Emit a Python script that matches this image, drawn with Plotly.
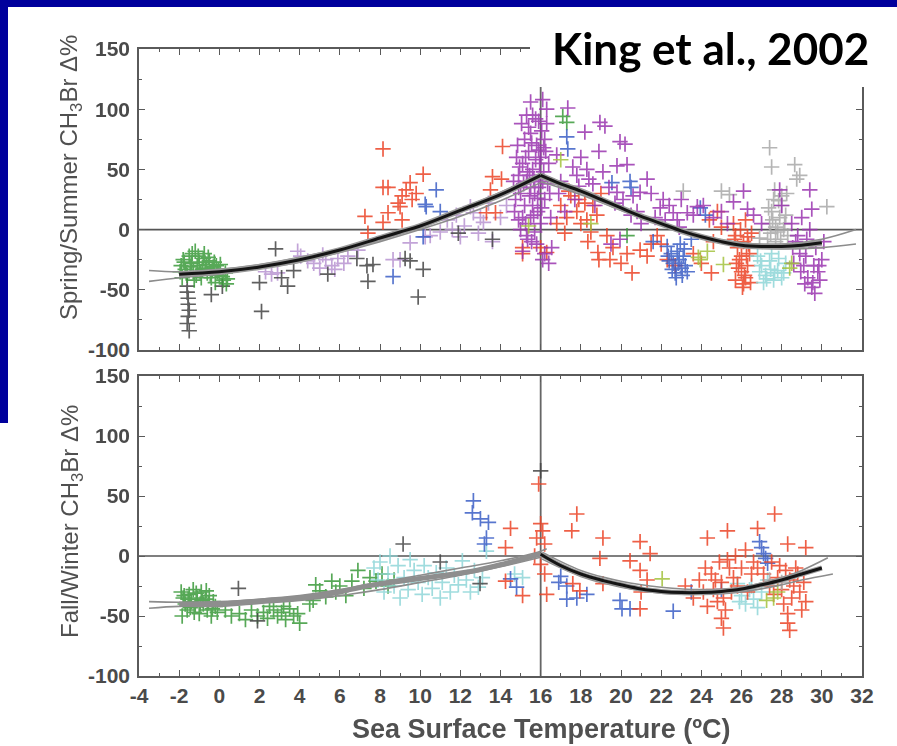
import plotly.graph_objects as go

# ---------------- DATA ----------------
# Top panel (Spring/Summer) scatter groups: (x = SST degC, y = CH3Br delta %)
top_green_x = [-1.9,-1.8,-1.7,-1.6,-1.5,-1.4,-1.3,-1.2,-1.1,-1.0,-0.9,-0.8,-0.7,-0.6,-0.5,-0.4,-0.3,-0.2,-0.1,0.0,0.2,0.4,
               -1.85,-1.65,-1.45,-1.25,-1.05,-0.85,-0.65,-0.45,-0.25,-0.05,0.15,0.35,-1.75,-1.35,-0.95,-0.55,-0.15,0.3,
               -1.95,-1.15,-0.75,-0.35,0.05,
               17.1,17.3,20.3]
top_green_y = [-30,-25,-33,-38,-22,-28,-35,-18,-30,-27,-40,-24,-32,-36,-26,-40,-31,-44,-35,-38,-42,-41,
               -40,-36,-31,-42,-22,-33,-29,-37,-27,-33,-39,-45,-27,-20,-35,-23,-30,-36,
               -35,-38,-20,-34,-29,
               94,89,-5]

top_dark_x = [-1.6,-1.6,-1.55,-1.55,-1.5,-1.55,-1.6,-1.5,-0.4,0.15,2.0,2.1,2.8,3.1,3.4,3.7,5.4,6.85,7.35,7.4,7.65,
              9.5,9.9,10.15,9.25,11.9,13.6]
top_dark_y = [-47,-52,-57,-62,-67,-72,-78,-84,-54,-47,-44,-68,-16,-40,-47,-34,-37,-24,-30,-43,-29,
              -26,-56,-33,-24,-3,-8]

top_lav_x = [2.3,2.6,2.9,3.9,4.05,4.7,5.0,5.3,5.6,5.9,6.2,6.4,6.9,8.65,9.0,9.5,10.25,10.5,11.35,12.0,12.65,13.15,
             13.6,12.2,11.8,12.5,13.0,11.0,14.3,14.0,4.4,5.15,5.75,11.6,12.9,13.4]
top_lav_y = [-35,-37,-36,-18,-22,-28,-32,-25,-30,-24,-28,-22,-17,-25,-25,-11,-6,-5,8,-6,14,6,
             -10,3,12,19,10,-2,20,10,-26,-21,-33,0,-3,22]

top_red_x = [8.15,8.15,8.4,10.15,8.9,9.1,9.3,9.5,9.6,9.8,9.0,7.25,8.15,9.1,8.4,7.4,14.1,13.6,14.05,13.5,13.75,13.3,
             15.1,15.1,16.0,16.3,18.35,18.85,19.45,18.9,20.55,20.95,21.3,
             17.0,17.3,17.5,17.8,18.0,18.2,18.5,18.8,19.0,17.2,16.8,
             21.8,22.0,23.6,24.0,24.5,24.4,24.8,25.0,24.6,
             25.6,25.7,25.8,25.9,26.0,26.1,26.2,26.3,26.4,26.1,25.95,26.2,25.7,26.05,26.35,25.75,26.5,26.25,
             17.4,17.9,18.3,18.6,19.3,19.6,20.0,20.3,21.5,22.3,22.7,25.65,25.85,26.0,26.15,26.3,26.45]
top_red_y = [67,35,35,46,22,28,33,39,25,30,19,11,6,8,14,-3,69,44,42,33,14,14,
             -15,-20,-15,-19,-10,-19,-25,-25,-36,-17,-22,
             20,10,28,15,5,22,-2,12,30,-3,5,
             -5,-12,-20,-28,-36,8,15,2,-10,
             5,-5,-15,-25,-35,-45,-40,-30,-20,-10,0,8,-42,-48,-12,-28,-3,-22,
             32,25,8,20,-5,-15,-28,-20,-12,-25,-30,-8,-32,-22,-38,-6,-44]

top_purple_x = [14.8,14.9,15.0,15.1,15.2,15.3,15.4,15.5,15.5,15.6,15.7,15.8,15.9,16.0,16.0,16.1,16.2,16.3,15.5,16.1,
                15.6,15.2,15.0,14.7,15.3,15.8,16.2,16.4,15.6,15.9,16.2,16.4,16.5,15.4,15.7,15.1,14.9,15.45,15.75,16.05,
                15.35,15.85,15.25,15.65,16.15,15.55,
                14.65,14.75,14.85,14.95,15.05,15.15,15.25,15.35,15.45,15.55,15.65,15.75,15.85,15.95,16.05,16.15,16.25,
                16.35,16.45,16.55,14.9,15.1,15.3,15.5,15.7,15.9,16.1,16.3,
                17.35,18.95,19.2,18.2,19.95,20.2,17.8,18.0,18.3,18.6,18.9,17.9,19.8,20.3,21.3,20.95,19.8,20.1,21.95,22.6,
                23.3,23.8,22.2,22.9,19.95,19.5,21.0,20.5,17.0,16.8,26.1,26.3,25.6,27.9,28.0,
                16.9,17.2,17.6,17.7,18.4,18.7,19.1,19.4,19.7,20.6,20.8,21.5,21.7,22.1,22.4,22.8,23.0,23.6,24.1,24.6,
                25.0,25.3,26.6,27.0,
                28.5,28.7,28.9,29.1,29.3,29.5,29.65,29.8,30.0,29.7,29.4,28.8,29.2,29.6,29.9,29.4,29.5,29.0,28.6,30.1,
                28.55,28.95,29.25,29.55,29.85,29.15]
top_purple_y = [60,45,30,55,20,40,65,10,80,50,30,70,90,5,60,40,75,100,106,108,
                95,75,0,15,-5,-12,-20,-28,20,35,25,55,10,85,-2,10,35,28,58,82,
                48,15,5,42,68,-10,
                40,25,70,52,88,38,60,-8,45,72,12,92,26,55,18,48,65,38,30,-15,8,-18,95,35,40,66,-25,88,
                101,89,86,81,73,71,45,60,50,38,65,36,53,54,42,31,31,25,18,14,
                14,19,8,2,-8,-12,5,12,40,62,32,17,23,33,20,
                30,15,52,25,42,20,48,35,22,28,15,30,10,25,20,8,25,12,20,10,
                15,5,12,5,
                5,-10,-20,-30,-40,-48,-53,-35,-25,-15,0,-5,-22,-30,-42,33,17,10,-28,-10,
                -15,-35,-8,-44,-30,-45]

top_blue_x = [10.25,10.8,11.0,8.65,10.15,10.3,17.3,17.35,19.55,20.45,20.5,22.3,22.5,22.6,22.7,22.8,22.9,23.0,23.1,
              23.2,22.4,22.95,23.3,23.95,24.2,23.5,21.6,22.35,22.55,22.75,22.85,23.05,23.15]
top_blue_y = [21,33,15,-39,-6,19,77,67,39,40,35,-14,-20,-28,-36,-18,-25,-32,-22,
              -30,-26,-12,-35,18,12,-8,-10,-22,-33,-40,-28,-38,-16]

top_cyan_x = [26.8,27.0,27.2,27.4,27.6,27.8,28.0,28.2,27.1,26.9,27.5,28.1,26.95,27.25,27.45,27.65,27.85]
top_cyan_y = [-22,-30,-38,-26,-42,-34,-40,-28,-44,-35,-20,-36,-26,-41,-33,-36,-24]

top_gray_x = [25.0,25.4,27.4,27.5,27.65,27.3,27.4,27.5,27.6,27.8,27.9,28.0,28.1,28.2,28.3,26.9,28.65,28.75,28.9,
              30.25,23.1,27.7,28.0,27.35,27.45,27.55,27.7,27.85,27.95,28.15,28.25]
top_gray_y = [32,29,68,52,33,-8,5,15,25,-2,10,20,0,12,-5,-7,54,42,45,19,32,-10,28,18,-3,8,2,24,-8,5,30]

top_ygreen_x = [15.4,17.0,23.95,23.85,25.1,28.4,28.5,18.5,24.3]
top_ygreen_y = [3,58,-25,-23,-29,-32,-28,5,-18]

# Top panel fit curves
top_fit_left_x = [-2,0,2,4,6,8,9,10,12,14,16]
top_fit_left_y = [-37,-35,-31,-25,-17,-7,-2,3,16,29,45]
top_fit_right_x = [16,17,18,19,20,21,22,23,24,25,26,27,28,29,30]
top_fit_right_y = [45,38,32,25,18,11,5,-1,-6,-10,-13,-14,-14,-13,-11]
top_up_left_x = [-3.5,-2,0,2,4,6,8,10,12,14,16]
top_up_left_y = [-34,-35,-33,-29,-23,-16,-6,4,17,31,46]
top_lo_left_x = [-3.5,-2,0,2,4,6,8,10,12,14,16]
top_lo_left_y = [-43,-40,-37,-32,-27,-19,-10,0,11,24,39]
top_up_right_x = [16,18,20,22,24,26,28,30,31.7]
top_up_right_y = [46,33,19,6,-5,-11,-12,-8,0]
top_lo_right_x = [16,18,20,22,24,26,28,30,31.7]
top_lo_right_y = [40,29,16,4,-7,-14,-16,-15,-12]

# Bottom panel (Fall/Winter) scatter groups
bot_green_x = [-1.9,-1.8,-1.7,-1.6,-1.5,-1.4,-1.3,-1.2,-1.1,-1.0,-0.9,-0.8,-0.7,-0.6,-0.5,-0.4,-0.3,-0.2,
               -1.85,-1.55,-1.25,-0.95,-0.65,-0.35,-0.1,-1.75,-1.45,-1.15,-0.85,-0.55,
               0.3,0.6,1.0,1.3,1.6,1.9,2.2,2.4,2.7,2.9,3.1,3.3,3.5,3.7,3.9,4.0,2.5,3.2,
               4.5,4.67,4.8,5.0,5.3,5.6,5.8,6.0,6.3,6.6,6.9,7.2,7.5,7.8,8.1,8.4,8.7]
bot_green_y = [-30,-35,-40,-45,-32,-38,-28,-42,-35,-48,-30,-40,-36,-45,-33,-50,-38,-42,
               -50,-36,-47,-40,-29,-44,-47,-33,-43,-31,-37,-39,
               -45,-50,-48,-53,-45,-50,-47,-52,-45,-50,-47,-53,-44,-50,-48,-56,-42,-42,
               -40,-37,-24,-29,-34,-21,-30,-25,-33,-21,-12,-27,-18,-21,-15,-25,-20]

bot_dark_x = [0.95,1.9,9.15,12.98,16.0,11.0]
bot_dark_y = [-27,-54,10,-23,71,-5]

bot_cyan_x = [7.7,7.9,8.0,8.2,8.4,8.5,8.7,8.9,9.0,9.2,9.4,9.5,9.7,9.9,10.1,10.2,10.4,10.6,10.8,11.0,11.1,11.3,11.5,
              11.7,11.9,12.1,12.3,12.5,12.7,12.9,13.1,13.3,14.7,15.1,
              25.8,26.0,26.2,26.4,26.6,26.8,25.9,26.5,27.3,27.0]
bot_cyan_y = [-10,-20,-5,-30,-15,0,-25,-8,-35,-18,-28,-3,-12,-22,-32,-8,-18,-27,-14,-35,-22,-10,-30,
              -16,-24,-4,-20,-30,-12,-26,-18,4,-15,-18,
              -23,-33,-40,-28,-36,-43,-38,-25,-20,-30]

bot_blue_x = [12.65,12.6,13.0,13.4,13.3,13.2,14.5,14.8,17.0,17.3,17.3,17.8,18.3,16.9,20.05,20.45,22.6,19.95,
              27.0,27.1,26.9,27.3,27.2,23.5,25.0]
bot_blue_y = [46,36,31,28,15,10,-19,-26,-17,-25,-36,-35,-32,-22,-44,-44,-46,-37,
              7,2,12,-6,-2,-30,-28]

bot_red_x = [14.5,14.25,14.25,15.1,15.9,16.0,16.1,15.8,16.2,16.0,16.3,15.7,16.2,17.8,17.55,17.6,17.95,18.95,19.1,
             19.1,20.95,20.95,21.45,20.95,20.45,21.0,21.3,
             24.3,25.3,26.8,27.65,28.3,29.2,28.4,28.3,25.1,25.0,
             23.2,23.6,23.9,24.1,24.3,24.5,24.6,24.8,24.9,25.0,25.2,25.4,25.5,25.7,25.6,26.0,26.2,26.5,27.5,27.8,
             28.0,28.1,28.3,28.5,28.6,28.8,28.9,29.0,29.2,27.9,28.2,27.6,26.8,
             24.2,24.7,25.1,25.3,25.8,26.3,26.6,27.1,27.4,28.4,28.7,29.1]
bot_red_y = [23,7,-21,-33,60,27,21,15,10,-7,-32,0,-15,35,21,-23,-29,-2,15,
             -23,12,-12,2,-44,-4,-30,-20,
             15,21,23,35,10,7,-62,-56,-60,-52,
             -25,-35,-20,-30,-42,-15,-28,-38,-5,-22,-45,-10,-30,0,-18,-10,5,-15,-5,-18,
             -28,-40,-48,-35,-25,-15,-30,-45,-38,-8,-12,-32,-10,
             -10,-20,-35,-3,-25,-30,-5,-15,-25,-20,-10,-22]

bot_ygreen_x = [22.05,27.25,27.6,27.8]
bot_ygreen_y = [-19,-37,-35,-30]

bot_gray_x = [27.4,28.0]
bot_gray_y = [-20,-22]

# Bottom panel fit curves
bot_fit_left_x = [-2,0,2,4,5.66,7.35,9,11,12.65,14.3,16]
bot_fit_left_y = [-40,-40,-37.5,-35,-31,-25,-21,-16.5,-12.5,-6,1.5]
bot_fit_right_x = [16,17,18,19,20,21,22,23,24,25,26,27,28,29,30]
bot_fit_right_y = [1.5,-8,-15,-20,-24,-27.5,-29.5,-30.5,-30.5,-29.5,-27.5,-24,-20,-15,-10]
bot_up_left_x = [-3.5,-2,0,2,4,6,8,10,12,14,16,16.3]
bot_up_left_y = [-38,-38.5,-38,-36,-33,-28,-22,-16,-10,-4,4,6]
bot_lo_left_x = [-3.5,-2,0,2,4,6,8,10,12,14,16]
bot_lo_left_y = [-43.5,-42,-42,-39.5,-37,-33,-28,-22,-16,-9,-1]
bot_up_right_x = [16.1,18,20,22,24,26,28,29,30.3]
bot_up_right_y = [3,-12,-21,-26,-28,-26,-18,-12,-1.5]
bot_lo_right_x = [16,18,20,22,24,26,28,29,30.55]
bot_lo_right_y = [-2,-17,-26,-31,-32,-30,-24,-20,-15]

x_ticks = list(range(-4, 33, 2))
y_ticks = [-100, -50, 0, 50, 100, 150]

# ---------------- LAYOUT CONSTANTS ----------------
W, H = 897, 746
L, R, T, B = 139, 35, 49, 70
PW, PH = W - L - R, H - T - B


def xp(px):
    return (px - L) / PW


def yp(py):
    return (H - B - py) / PH


COLORS = {
    "green": "#3a9a3a", "dark": "#454545", "lav": "#b995d2", "red": "#ec4326",
    "purple": "#9a35b0", "blue": "#3a5ec6", "cyan": "#8fd6d8", "gray": "#a9a9a9",
    "ygreen": "#a3c23e",
}

fig = go.Figure()


def pts(x, y, col, ax):
    fig.add_trace(go.Scatter(
        x=x, y=y, mode="markers", xaxis=ax[0], yaxis=ax[1], showlegend=False,
        marker=dict(symbol="cross-thin", size=11, color=COLORS[col],
                    line=dict(width=1.7, color=COLORS[col])),
        opacity=0.85, hoverinfo="skip"))


def line(x, y, col, w, ax):
    fig.add_trace(go.Scatter(x=x, y=y, mode="lines", xaxis=ax[0], yaxis=ax[1],
                             showlegend=False, line=dict(color=col, width=w, shape="spline"),
                             hoverinfo="skip"))


TOP = ("x2", "y2")
BOT = ("x", "y")

for ax in (TOP, BOT):
    line([-4, 32], [0, 0], "#555555", 1.6, ax)
    line([16, 16], [-100, 150], "#666666", 1.8, ax)

# top scatter
pts(top_lav_x, top_lav_y, "lav", TOP)
pts(top_dark_x, top_dark_y, "dark", TOP)
pts(top_green_x, top_green_y, "green", TOP)
pts(top_red_x, top_red_y, "red", TOP)
pts(top_blue_x, top_blue_y, "blue", TOP)
pts(top_cyan_x, top_cyan_y, "cyan", TOP)
pts(top_gray_x, top_gray_y, "gray", TOP)
pts(top_purple_x, top_purple_y, "purple", TOP)
pts(top_ygreen_x, top_ygreen_y, "ygreen", TOP)

# bottom scatter
pts(bot_green_x, bot_green_y, "green", BOT)
pts(bot_cyan_x, bot_cyan_y, "cyan", BOT)
pts(bot_dark_x, bot_dark_y, "dark", BOT)
pts(bot_blue_x, bot_blue_y, "blue", BOT)
pts(bot_red_x, bot_red_y, "red", BOT)
pts(bot_ygreen_x, bot_ygreen_y, "ygreen", BOT)
pts(bot_gray_x, bot_gray_y, "gray", BOT)

# fits top
for xs, ys in ((top_up_left_x, top_up_left_y), (top_lo_left_x, top_lo_left_y),
               (top_up_right_x, top_up_right_y), (top_lo_right_x, top_lo_right_y)):
    line(xs, ys, "#8c8c8c", 1.6, TOP)
line(top_fit_left_x, top_fit_left_y, "#9a9a9a", 6, TOP)
line(top_fit_right_x, top_fit_right_y, "#9a9a9a", 6, TOP)
line(top_fit_left_x, top_fit_left_y, "#151515", 3, TOP)
line(top_fit_right_x, top_fit_right_y, "#151515", 3, TOP)

# fits bottom
for xs, ys in ((bot_up_left_x, bot_up_left_y), (bot_lo_left_x, bot_lo_left_y),
               (bot_up_right_x, bot_up_right_y), (bot_lo_right_x, bot_lo_right_y)):
    line(xs, ys, "#8c8c8c", 1.6, BOT)
line(bot_fit_left_x, bot_fit_left_y, "#8e8e8e", 5, BOT)
line(bot_fit_right_x, bot_fit_right_y, "#9a9a9a", 5, BOT)
line(bot_fit_right_x, bot_fit_right_y, "#151515", 3, BOT)

tickfont = dict(family="Liberation Sans, Arial, sans-serif", size=21, color="#4a4a4a", weight="bold")
axis_common = dict(
    showline=True, linecolor="#5a5a5a", linewidth=1.6, mirror="ticks",
    ticks="inside", ticklen=6, tickwidth=1.4, tickcolor="#5a5a5a",
    showgrid=False, zeroline=False, tickfont=tickfont,
)
xcommon = dict(axis_common, range=[-4, 32], tickvals=x_ticks,
               ticktext=[str(v) for v in x_ticks],
               minor=dict(ticks="inside", dtick=1, tick0=-4, ticklen=3, tickcolor="#5a5a5a",
                          tickwidth=1.2, showgrid=False))
ycommon = dict(axis_common, range=[-100, 150], tickvals=y_ticks,
               ticktext=[str(v) for v in y_ticks], ticklabelstandoff=3,
               minor=dict(ticks="inside", dtick=25, tick0=-100, ticklen=3, tickcolor="#5a5a5a",
                          tickwidth=1.2, showgrid=False))

fig.update_layout(
    width=W, height=H, margin=dict(l=L, r=R, t=T, b=B),
    paper_bgcolor="white", plot_bgcolor="white",
    xaxis=dict(xcommon, domain=[0, 1], anchor="y"),
    yaxis=dict(ycommon, domain=[0, yp(376)], anchor="x"),
    xaxis2=dict(xcommon, domain=[0, 1], anchor="y2", showticklabels=False),
    yaxis2=dict(ycommon, domain=[yp(350), 1], anchor="x2"),
    font=dict(family="Liberation Sans, Arial, sans-serif"),
)

title_font = dict(family="Liberation Sans, Arial, sans-serif", size=24, color="#505050")
fig.add_annotation(text="Spring/Summer CH<sub>3</sub>Br \u0394%", textangle=-90,
                   xref="paper", yref="paper", x=xp(71), y=yp(178), showarrow=False,
                   xanchor="center", yanchor="middle", font=title_font)
fig.add_annotation(text="Fall/Winter CH<sub>3</sub>Br \u0394%", textangle=-90,
                   xref="paper", yref="paper", x=xp(71), y=yp(522), showarrow=False,
                   xanchor="center", yanchor="middle", font=title_font)
fig.add_annotation(text="<b>Sea Surface Temperature (\u00baC)</b>",
                   xref="paper", yref="paper", x=xp(541), y=yp(729), showarrow=False,
                   xanchor="center", yanchor="middle",
                   font=dict(family="Liberation Sans, Arial, sans-serif", size=27, color="#505050"))

# blue slide frame and white label box
fig.add_shape(type="rect", xref="paper", yref="paper", x0=xp(0), x1=xp(W), y0=yp(7), y1=yp(0),
              fillcolor="#00009c", line=dict(width=0), layer="above")
fig.add_shape(type="rect", xref="paper", yref="paper", x0=xp(0), x1=xp(8), y0=yp(423), y1=yp(0),
              fillcolor="#00009c", line=dict(width=0), layer="above")
fig.add_shape(type="rect", xref="paper", yref="paper", x0=xp(530), x1=xp(W), y0=yp(87), y1=yp(7),
              fillcolor="white", line=dict(width=0), layer="above")
fig.add_annotation(text="<b>King et al., 2002</b>", xref="paper", yref="paper",
                   x=xp(710), y=yp(48), showarrow=False, xanchor="center", yanchor="middle",
                   font=dict(family="Lato, Open Sans, sans-serif", size=44, color="black"))

fig.write_html("out.html", config={"displayModeBar": False},
               post_script="document.body.style.margin='0px';")
